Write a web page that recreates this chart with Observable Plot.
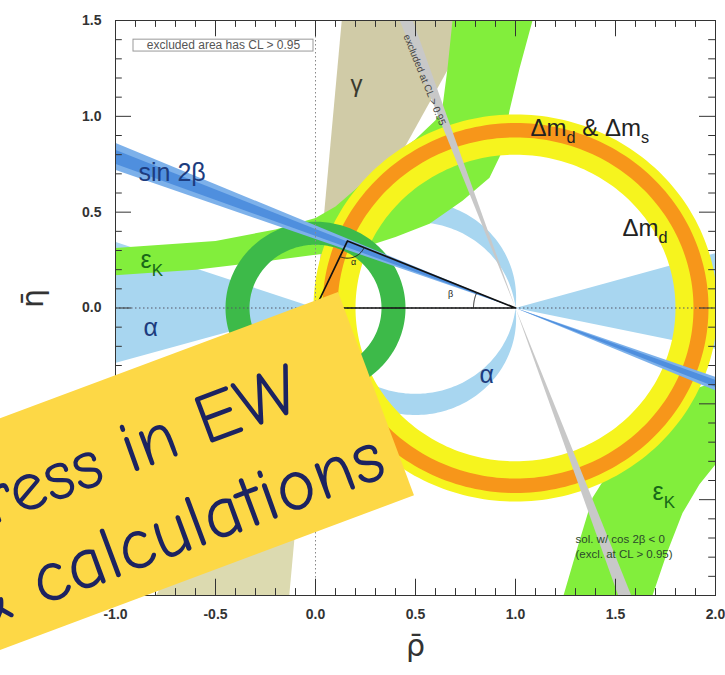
<!DOCTYPE html>
<html><head><meta charset="utf-8">
<script src="https://cdn.jsdelivr.net/npm/d3@7"></script>
<script src="https://cdn.jsdelivr.net/npm/@observablehq/plot@0.6"></script>
<style>
body{margin:0;background:#fff;}
#wrap{position:relative;width:725px;height:675px;overflow:hidden;background:#fff;}
#note{position:absolute;left:-362px;top:292px;width:700px;height:217px;background:#fdd846;overflow:hidden;
  transform-origin:700px 0;transform:rotate(-20.5deg);}
#note span{position:absolute;white-space:nowrap;font-family:"Comic Sans MS","Comic Neue","DejaVu Sans",sans-serif;
  line-height:1;color:#1c2361;}
</style></head><body><div id="wrap"></div>
<script>
// ---------- data ----------
const xTickValues = [-1.0, -0.5, 0.0, 0.5, 1.0, 1.5, 2.0];
const xTickLabels = ["-1.0", "-0.5", "0.0", "0.5", "1.0", "1.5", "2.0"];
const yTickValues = [-1.5, -1.0, -0.5, 0.0, 0.5, 1.0, 1.5];
const yTickLabels = ["-1.5", "-1.0", "-0.5", "0.0", "0.5", "1.0", "1.5"];

const apex = [0.16, 0.35];                 // fitted apex (rho, eta)
const gammaDeg = [62, 85];                 // gamma wedge from origin
const betaOuterDeg = [19.8, 23.3];         // sin 2beta, outer band
const betaInnerDeg = [20.6, 22.4];         // sin 2beta, inner band
const betaExclDeg = [68.9, 71.1];          // cos 2beta < 0 solution
const alphaDeg = [83.7, 96.3];             // alpha circles
const alphaWedgeOriginDeg = [161, 196];    // alpha wedge at origin
const alphaWedgeOneDeg = [-12, 16];        // alpha wedge at (1,0)
const vubRadius = [0.33, 0.45];            // |Vub/Vcb| ring
const dmdRadius = [0.80, 1.01];            // Delta m_d ring
const dmsRadius = [0.89, 0.965];           // Delta m_d & Delta m_s ring

const epsKUpperInner = [[-1.05,0.168],[-0.6,0.2],[-0.2,0.25],[0.05,0.285],[0.235,0.315],[0.4,0.37],[0.57,0.44],[0.735,0.56],[0.87,0.68],[0.935,0.82],[0.97,1.03],[1.02,1.25],[1.085,1.5],[1.11,1.6]];
const epsKUpperOuter = [[-1.05,0.31],[-0.5,0.35],[-0.2,0.41],[0.0,0.47],[0.1,0.53],[0.2,0.62],[0.35,0.76],[0.5,0.88],[0.6,0.98],[0.635,1.05],[0.66,1.25],[0.685,1.5],[0.69,1.6]];
const epsKLowerInner = [[1.22,-1.6],[1.24,-1.5],[1.31,-1.25],[1.385,-0.99],[1.5,-0.8],[1.7,-0.55],[1.9,-0.42],[2.05,-0.37]];
const epsKLowerOuter = [[1.66,-1.6],[1.685,-1.5],[1.76,-1.27],[1.835,-1.07],[1.92,-0.92],[2.05,-0.75]];

const labelGamma = [{rho: 0.175, eta: 1.165, text: "γ"}];
const labelsBlue = [{rho: -0.885, eta: 0.705, text: "sin 2β"}, {rho: -0.86, eta: -0.105, text: "α"}, {rho: 0.82, eta: -0.35, text: "α"}];
const labelsGreen = [{rho: -0.875, eta: 0.25, text: "ε_K"}, {rho: 1.685, eta: -0.96, text: "ε_K"}];
const labelsBlack = [{rho: 1.075, eta: 0.94, text: "Δm_d & Δm_s"}, {rho: 1.535, eta: 0.415, text: "Δm_d"}];
const legendText = [{rho: -0.46, eta: 1.37, text: "excluded area has CL > 0.95"}];
const legendBox = [{x1: -0.91, x2: -0.01, y1: 1.338, y2: 1.40}];
const exclText = [{rho: 0.545, eta: 1.19, text: "excluded at CL > 0.95"}];
const solText = [{rho: 1.30, eta: -1.208, text: "sol. w/ cos 2β < 0"}, {rho: 1.30, eta: -1.286, text: "(excl. at CL > 0.95)"}];
const angleLabels = [{rho: 0.675, eta: 0.075, text: "β"}, {rho: 0.19, eta: 0.24, text: "α"}];
const noteLines = ["Progress in EW", "& calculations"];

// ---------- geometry helpers ----------
const rad = d => d * Math.PI / 180;
const FAR = 6;
function wedge(vx, vy, a0, a1, n = 10) {
  const p = [[vx, vy]];
  for (let i = 0; i <= n; i++) { const a = rad(a0 + (a1 - a0) * i / n); p.push([vx + FAR * Math.cos(a), vy + FAR * Math.sin(a)]); }
  return p;
}
function annulus(cx, cy, r0, r1, n = 240) {
  const p = [];
  for (let i = 0; i <= n; i++) { const t = 2 * Math.PI * i / n; p.push([cx + r1 * Math.cos(t), cy + r1 * Math.sin(t)]); }
  for (let i = n; i >= 0; i--) { const t = 2 * Math.PI * i / n; p.push([cx + r0 * Math.cos(t), cy + r0 * Math.sin(t)]); }
  return p;
}
function crescents(aDeg) {
  const d = 0.5 / Math.tan(rad(aDeg)), r = Math.hypot(0.5, d), phi = Math.atan2(d, 0.5), n = 120;
  const up = [];
  for (let i = 0; i <= n; i++) { const t = -phi + (Math.PI + 2 * phi) * i / n; up.push([0.5 + r * Math.cos(t), d + r * Math.sin(t)]); }
  for (let i = 0; i <= n; i++) { const t = (Math.PI - phi) - (Math.PI - 2 * phi) * i / n; up.push([0.5 + r * Math.cos(t), -d + r * Math.sin(t)]); }
  return [up, up.map(([x, y]) => [x, -y])];
}
function arc(cx, cy, r, a0, a1, n = 24) {
  const p = [];
  for (let i = 0; i <= n; i++) { const a = a0 + (a1 - a0) * i / n; p.push([cx + r * Math.cos(a), cy + r * Math.sin(a)]); }
  return p;
}
const poly = (pts, fill, o = {}) => Plot.line(pts, {x: d => d[0], y: d => d[1], fill, stroke: "none", clip: true, ...o});

const [alphaUp, alphaDn] = crescents(alphaDeg[0]);
const tri = [[0, 0], apex, [1, 0], [0, 0]];
const apexArc = arc(apex[0], apex[1], 0.09, Math.atan2(-apex[1], -apex[0]), Math.atan2(-apex[1], 1 - apex[0]));
const betaAngle = Math.atan2(apex[1], 1 - apex[0]);
const betaArc = arc(1, 0, 0.21, Math.PI, Math.PI - betaAngle);

const xAll = d3.range(-10, 21).map(i => i / 10), yAll = d3.range(-15, 16).map(i => i / 10);
const isMajor = v => Math.abs(v * 2 - Math.round(v * 2)) < 1e-9;
const xMaj = xAll.filter(isMajor), xMin = xAll.filter(v => !isMajor(v));
const yMaj = yAll.filter(isMajor), yMin = yAll.filter(v => !isMajor(v));
const TX = 0.085, tx = 0.036, TY = 0.08, ty = 0.034;
const tickStyle = {stroke: "#333", strokeWidth: 1};

const textOpts = (fill, size) => ({x: "rho", y: "eta", text: "text", fill, fontSize: size, textAnchor: "start"});

const chart = Plot.plot({
  width: 725, height: 675,
  marginLeft: 115, marginRight: 10, marginTop: 20, marginBottom: 80,
  x: {domain: [-1, 2]},
  y: {domain: [-1.5, 1.5]},
  style: {fontFamily: "'Liberation Sans', Arial, sans-serif", background: "white", overflow: "visible"},
  marks: [
    // gamma
    poly(wedge(0, 0, gammaDeg[0], gammaDeg[1]), "#d0cba7"),
    poly(wedge(0, 0, gammaDeg[0] + 180, gammaDeg[1] + 180), "#dcdab0"),
    // alpha
    poly(wedge(0, 0, alphaWedgeOriginDeg[0], alphaWedgeOriginDeg[1]), "#a8d6f0"),
    poly(wedge(1, 0, alphaWedgeOneDeg[0], alphaWedgeOneDeg[1]), "#a8d6f0"),
    poly(alphaUp, "#a8d6f0"),
    poly(alphaDn, "#a8d6f0"),
    // epsilon K
    poly([...epsKUpperInner, ...epsKUpperOuter.slice().reverse()], "#82ee3c"),
    poly([...epsKLowerInner, ...epsKLowerOuter.slice().reverse()], "#82ee3c"),
    // Delta m rings
    poly(annulus(1, 0, dmdRadius[0], dmdRadius[1]), "#f6f41e"),
    poly(annulus(1, 0, dmsRadius[0], dmsRadius[1]), "#f7961a"),
    // Vub ring
    poly(annulus(0, 0, vubRadius[0], vubRadius[1]), "#3dba49"),
    // sin 2 beta
    poly(wedge(1, 0, 180 - betaOuterDeg[1], 180 - betaOuterDeg[0]), "#7db1ea"),
    poly(wedge(1, 0, -betaOuterDeg[1], -betaOuterDeg[0]), "#7db1ea"),
    poly(wedge(1, 0, 180 - betaInnerDeg[1], 180 - betaInnerDeg[0]), "#4f8fde"),
    poly(wedge(1, 0, -betaInnerDeg[1], -betaInnerDeg[0]), "#4f8fde"),
    // excluded cos 2beta < 0 solution
    poly(wedge(1, 0, 180 - betaExclDeg[1], 180 - betaExclDeg[0]), "#c8c8c8"),
    poly(wedge(1, 0, -betaExclDeg[1], -betaExclDeg[0]), "#c8c8c8"),
    // guide lines
    Plot.ruleY([0], {stroke: "#556", strokeDasharray: "1.5,2.5", strokeWidth: 1}),
    Plot.ruleX([0], {stroke: "#888", strokeDasharray: "1.5,2.5", strokeWidth: 1}),
    // triangle
    Plot.line(tri, {x: d => d[0], y: d => d[1], stroke: "#111", strokeWidth: 1.7}),
    Plot.line(apexArc, {x: d => d[0], y: d => d[1], stroke: "#222", strokeWidth: 1}),
    Plot.line(betaArc, {x: d => d[0], y: d => d[1], stroke: "#222", strokeWidth: 1}),
    Plot.text(angleLabels, {...textOpts("#222", 9), textAnchor: "middle"}),
    // labels
    Plot.text(labelGamma, textOpts("#3a3a2e", 24)),
    Plot.text(labelsBlue, textOpts("#1d3c7e", 25)),
    Plot.text(labelsGreen, textOpts("#186818", 25)),
    Plot.text(labelsBlack, textOpts("#222", 24)),
    Plot.rect(legendBox, {x1: "x1", x2: "x2", y1: "y1", y2: "y2", fill: "white", stroke: "#999", strokeWidth: 1}),
    Plot.text(legendText, {...textOpts("#555", 12), textAnchor: "middle"}),
    Plot.text(exclText, {...textOpts("#444", 10), textAnchor: "middle", rotate: 68}),
    Plot.text(solText, textOpts("#2b4a2b", 11.5)),
    // ticks (inside, on all four sides)
    Plot.ruleX(xMaj, {x: d => d, y1: -1.5, y2: -1.5 + TX, ...tickStyle}),
    Plot.ruleX(xMin, {x: d => d, y1: -1.5, y2: -1.5 + tx, ...tickStyle}),
    Plot.ruleX(xMaj, {x: d => d, y1: 1.5, y2: 1.5 - TX, ...tickStyle}),
    Plot.ruleX(xMin, {x: d => d, y1: 1.5, y2: 1.5 - tx, ...tickStyle}),
    Plot.ruleY(yMaj, {y: d => d, x1: -1, x2: -1 + TY, ...tickStyle}),
    Plot.ruleY(yMin, {y: d => d, x1: -1, x2: -1 + ty, ...tickStyle}),
    Plot.ruleY(yMaj, {y: d => d, x1: 2, x2: 2 - TY, ...tickStyle}),
    Plot.ruleY(yMin, {y: d => d, x1: 2, x2: 2 - ty, ...tickStyle}),
    Plot.frame({stroke: "#333", strokeWidth: 1}),
    // axes
    Plot.axisX(xTickValues, {tickSize: 0, tickPadding: 14, label: null, fontSize: 14, fontWeight: "bold", fill: "#333",
      tickFormat: d => xTickLabels[xTickValues.indexOf(d)]}),
    Plot.axisY(yTickValues, {tickSize: 0, tickPadding: 14, label: null, fontSize: 14, fontWeight: "bold", fill: "#333",
      tickFormat: d => yTickLabels[yTickValues.indexOf(d)]}),
    Plot.text(["ρ\u0304"], {x: 0.5, frameAnchor: "bottom", dy: 60, fontSize: 30, fill: "#333", fontFamily: "DejaVu Sans"}),
    Plot.text(["η\u0304"], {y: 0, frameAnchor: "left", dx: -82, rotate: -90, fontSize: 30, fill: "#333", fontFamily: "DejaVu Sans"})
  ]
});

// subscripts: "Δm_d" -> Δm with subscript d
chart.querySelectorAll("text").forEach(t => {
  const s = t.textContent;
  if (!s.includes("_")) return;
  let fs = 20, el = t;
  while (el && el !== chart) { const a = el.getAttribute && el.getAttribute("font-size"); if (a) { fs = parseFloat(a); break; } el = el.parentNode; }
  const parts = s.split(/_(\w)/);
  t.textContent = "";
  let shifted = false;
  parts.forEach((p, i) => {
    if (!p) return;
    const ts = document.createElementNS("http://www.w3.org/2000/svg", "tspan");
    ts.textContent = p;
    if (i % 2 === 1) { ts.setAttribute("font-size", (fs * 0.68).toFixed(1)); ts.setAttribute("dy", (fs * 0.3).toFixed(1)); shifted = true; }
    else if (shifted) { ts.setAttribute("dy", (-fs * 0.3).toFixed(1)); shifted = false; }
    t.appendChild(ts);
  });
});

const wrap = document.getElementById("wrap");
wrap.appendChild(chart);
const note = document.createElement("div");
note.id = "note";
const l1 = document.createElement("span");
l1.textContent = noteLines[0];
l1.style.cssText = "right:72px;top:38px;font-size:72px";
const l2 = document.createElement("span");
l2.textContent = noteLines[1];
l2.style.cssText = "right:16px;top:128px;font-size:75px";
note.appendChild(l1); note.appendChild(l2);
wrap.appendChild(note);
</script></body></html>
